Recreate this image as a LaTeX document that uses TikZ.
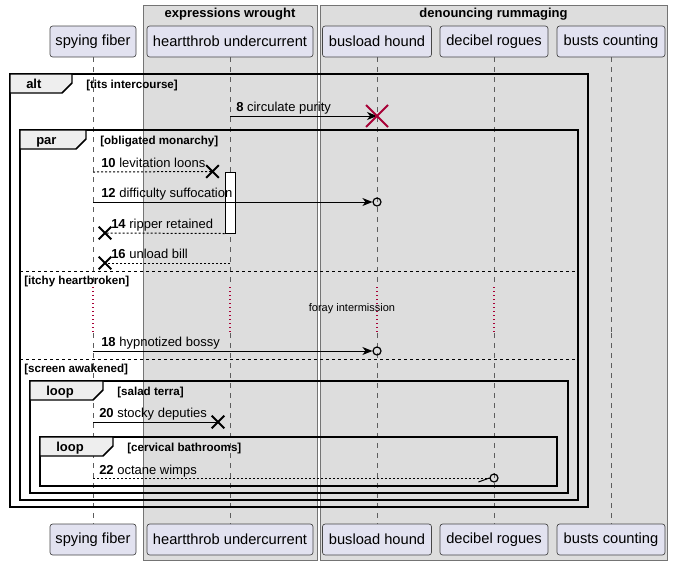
\documentclass[tikz,border=0pt]{standalone}
\usepackage{fontspec}
\setmainfont{Liberation Sans}
\usetikzlibrary{positioning, arrows.meta, shapes.misc}

\definecolor{partfill}{HTML}{E2E2F0}
\definecolor{boxfill}{HTML}{DDDDDD}
\definecolor{tabfill}{HTML}{EEEEEE}
\definecolor{killred}{HTML}{A80036}
\definecolor{linegray}{HTML}{181818}

\tikzset{
  part/.style={draw=linegray!80, line width=0.5pt, fill=partfill, rounded corners=2pt, minimum height=23.25pt, inner sep=0pt, font=\fontsize{11}{13}\selectfont},
  grp/.style={draw=linegray!60, line width=0.6pt, fill=boxfill},
  grptitle/.style={inner sep=0pt, font=\bfseries\fontsize{9.75}{11}\selectfont},
  life/.style={draw=linegray!70, line width=0.5pt, dash pattern=on 3.75pt off 3.75pt},
  delay/.style={draw=killred, line width=0.8pt, dash pattern=on 0.9pt off 2.1pt},
  frm/.style={draw=black, line width=1.1pt},
  tab/.style={draw=black, line width=1.1pt, fill=tabfill},
  kw/.style={anchor=base west, inner sep=0pt, font=\bfseries\fontsize{9.75}{11}\selectfont},
  guard/.style={anchor=base west, inner sep=0pt, font=\bfseries\fontsize{8.7}{10}\selectfont},
  divider/.style={line width=0.75pt, dash pattern=on 2.25pt off 2.25pt},
  lbl/.style={anchor=base west, inner sep=0pt, font=\fontsize{9.75}{11}\selectfont},
  msg/.style={line width=0.75pt, -{Stealth[length=7.5pt, width=6pt, inset=2.25pt]}},
  reply/.style={line width=0.75pt, dash pattern=on 1.5pt off 1.5pt},
  plain/.style={line width=0.75pt},
  circ/.style={circle, draw, line width=0.9pt, minimum size=6pt, inner sep=0pt},
  xm/.style={cross out, draw, line width=1.5pt, minimum size=8pt, inner sep=0pt},
  killx/.style={xm, draw=killred, minimum size=15pt},
}

\begin{document}
\begin{tikzpicture}[x=0.75pt, y=-0.75pt]
  \useasboundingbox (0,0) rectangle (673,565);

  % Draw the two group boxes
  \foreach \n/\xl/\xr/\ttl in {ew/143/317/expressions wrought, rm/320/667/denouncing rummaging} {
    \draw[grp] (\xl,5) rectangle (\xr,560);
    \node[grptitle] (grp-\n) at ({(\xl+\xr)/2},14) {\ttl};
  }

  % Draw participants at top and bottom, with lifelines broken by the delay
  \foreach \n/\x/\w/\dl/\ttl in {sf/93/86/delay/spying fiber, hu/230/166/delay/heartthrob undercurrent, bh/377/109/delay/busload hound, dr/494/108/delay/decibel rogues, bc/611/108/life/busts counting} {
    \node[part, minimum width=\w*0.75pt] (\n-top) at (\x,41.5) {\ttl};
    \node[part, minimum width=\w*0.75pt] (\n-bot) at (\x,539.5) {\ttl};
    \draw[life] (\n-top) -- (\x,287);
    \draw[\dl] (\x,287) -- (\x,333);
    \draw[life] (\x,333) -- (\n-bot);
  }

  % Frames with their tabs and guards
  \foreach \n/\xl/\yt/\xr/\yb/\w/\kind/\grd in {alt/10/74/588/507/62/alt/tits intercourse, par/20/130/578/500/66/par/obligated monarchy, ls/30/381/568/493/73/loop/salad terra, lc/40/437/557/486/73/loop/cervical bathrooms} {
    \draw[frm] (\xl,\yt) rectangle (\xr,\yb);
    \filldraw[tab] (\xl,\yt) -- ++(\w,0) -- ++(0,9) -- ++(-10,10) -- ({\xl},{\yt+19}) -- cycle;
    \node[kw] (\n-kw) at ({\xl+16},{\yt+14.5}) {\kind};
    \node[guard] (\n-g) at ({\xl+\w+14},{\yt+14.5}) {[\grd]};
  }

  % Else parts of par
  \draw[divider] (20,271) -- (578,271);
  \node[guard] (g-itchy) at (24,284) {[itchy heartbroken]};
  \draw[divider] (20,359) -- (578,359);
  \node[guard] (g-screen) at (24,372) {[screen awakened]};

  % Delay text
  \node[inner sep=0pt, font=\fontsize{8.25}{10}\selectfont] (foray) at (352,309) {foray intermission};

  % Activation on heartthrob undercurrent
  \node[draw, fill=white, line width=0.75pt, minimum width=7.5pt, minimum height=45.75pt, inner sep=0pt] (act) at (230,202.5) {};

  % Message labels
  \foreach \n/\x/\y/\ttl in {8/236/111/circulate purity, 10/101/167/levitation loons, 12/101/197/difficulty suffocation, 14/111/228/ripper retained, 16/111/258/unload bill, 18/101/346/hypnotized bossy, 20/99/417/stocky deputies, 22/99/474/octane wimps} {
    \node[lbl] (l\n) at (\x,\y) {\textbf{\n} \ttl};
  }

  % Message 8
  \coordinate (m8) at (230,116);
  \coordinate (e8) at (377,116);
  \draw[msg] (m8) -- (e8);
  \node[killx] (x8) at (e8) {};

  % Message 10
  \coordinate (m10) at (93,172);
  \node[xm] (x10) at (212.5,171.5) {};
  \draw[reply] (m10) -- (x10.center);

  % Message 12
  \coordinate (m12) at (93,202);
  \node[circ] (o12) at (377,202) {};
  \draw[msg] (m12) -- (o12.west);

  % Message 14 and 16
  \node[xm] (x14) at (105,233) {};
  \draw[reply] (act.south west) -- (x14.center);
  \coordinate (m16) at (230,263);
  \node[xm] (x16) at (105,263) {};
  \draw[reply] (m16) -- (x16.center);

  % Message 18
  \coordinate (m18) at (93,351);
  \node[circ] (o18) at (377,351) {};
  \draw[msg] (m18) -- (o18.west);

  % Message 20
  \coordinate (m20) at (93,422);
  \node[xm] (x20) at (218,422) {};
  \draw[plain] (m20) -- (x20.center);

  % Message 22
  \coordinate (m22) at (93,478);
  \node[circ] (o22) at (494,478) {};
  \draw[reply] (m22) -- (o22.west);
  \draw[plain] (o22.west) -- ++(-11,4);
\end{tikzpicture}
\end{document}
